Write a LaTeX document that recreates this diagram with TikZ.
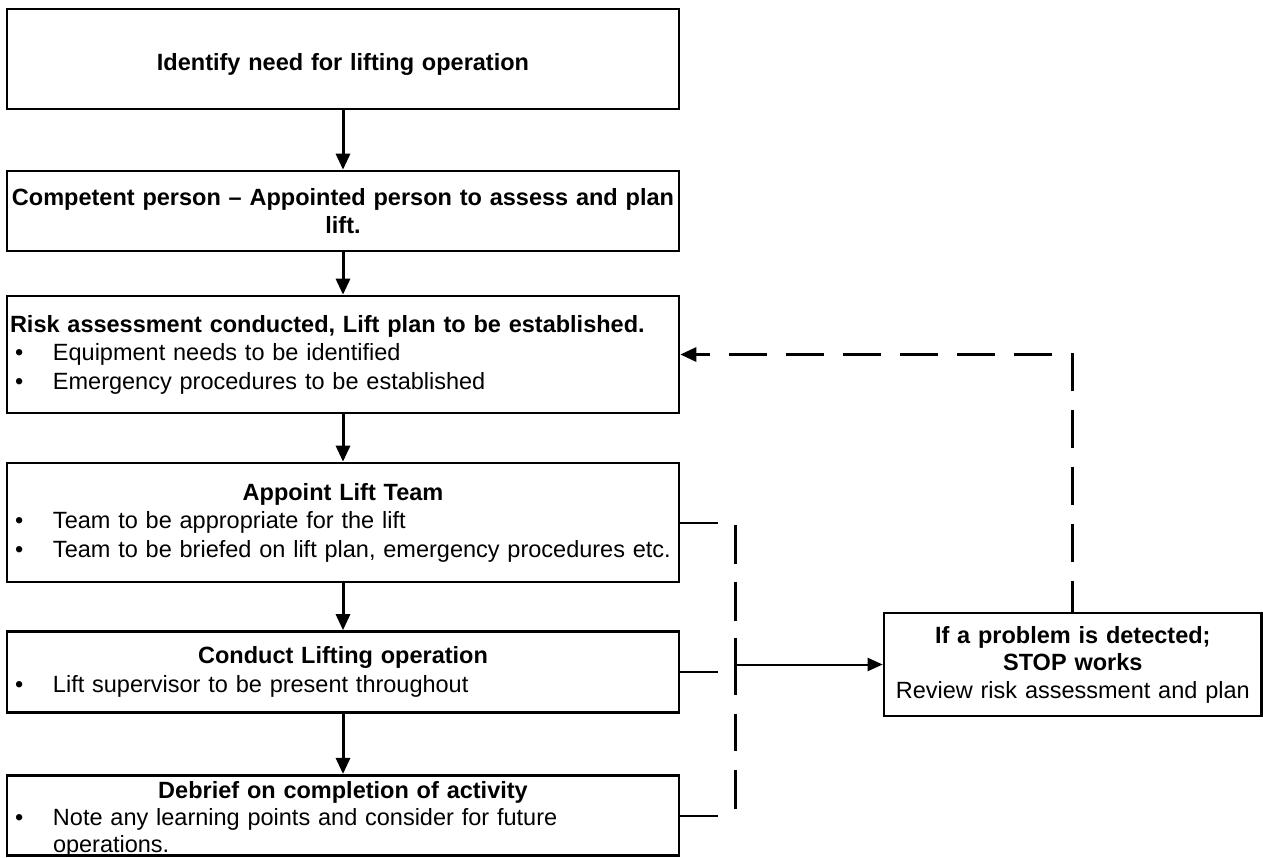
\documentclass[tikz,border=0pt]{standalone}
\usepackage{fontspec}
\setmainfont{Liberation Sans}
\usetikzlibrary{arrows.meta}

% full-width lines inside the process boxes
\newcommand\bitem[1]{\makebox[672pt][l]{\makebox[46pt][l]{\hspace*{8pt}\textbullet}#1}}
\newcommand\bcont[1]{\makebox[672pt][l]{\hspace*{46pt}#1}}
\newcommand\lhead[1]{\makebox[672pt][l]{\hspace*{3pt}\bfseries #1}}

\begin{document}
\begin{tikzpicture}[x=1pt,y=-1pt,
  box/.style={draw=black,line width=2.6pt,rectangle,inner sep=0pt,
    minimum width=672pt,text width=672pt,align=center,
    font=\fontsize{23.5}{28.5}\selectfont},
  boxtext/.style={inner sep=0pt,text width=672pt,align=center,
    font=\fontsize{23.5}{27}\selectfont},
  sidebox/.style={draw=black,line width=2.6pt,rectangle,inner sep=0pt,
    minimum width=377.5pt,text width=377.5pt,minimum height=103pt,align=center,
    font=\fontsize{23.5}{27.5}\selectfont},
  flow/.style={line width=3pt,-{Triangle[length=16pt,width=14pt]}},
  feedback/.style={line width=3pt,dash pattern=on 38pt off 19pt,dash phase=7.5pt,
    -{Triangle[length=16pt,width=14pt]}},
  bar/.style={line width=3pt,dash pattern=on 39pt off 18pt on 39pt off 17pt on 57pt off 19pt on 37pt off 19pt on 39pt off 10pt},
  stub/.style={line width=2pt},
  link/.style={line width=2pt,-{Triangle[length=15pt,width=13pt]}}
]
\useasboundingbox (0,0) rectangle (1263,857);

% main sequence of the lifting procedure
\node[box,minimum height=100pt,text height=27pt,text depth=5pt] (b1) at (343,59)
  {\bfseries Identify need for lifting operation};
\node[box,minimum height=80pt] (b2) at (343,211)
  {\bfseries Competent person -- Appointed person to assess and plan\\ \bfseries lift.};
\node[box,minimum height=117pt] (b3) at (343,354.5)
  {\lhead{Risk assessment conducted, Lift plan to be established.}\\
   \bitem{Equipment needs to be identified}\\
   \bitem{Emergency procedures to be established}};
\node[box,minimum height=119pt] (b4) at (343,522.5)
  {\textbf{Appoint Lift Team}\\
   \bitem{Team to be appropriate for the lift}\\
   \bitem{Team to be briefed on lift plan, emergency procedures etc.}};
\node[box,minimum height=81pt] (b5) at (343,672)
  {\textbf{Conduct Lifting operation}\\
   \bitem{Lift supervisor to be present throughout}};
\node[box,minimum height=80.5pt] (b6) at (343,815.5) {};
\node[boxtext] (b6t) at (343,819.5)
  {\textbf{Debrief on completion of activity}\\
   \bitem{Note any learning points and consider for future}\\
   \bcont{operations.}};

% stop-works box
\node[sidebox] (rb) at (1072.75,664.5)
  {\textbf{If a problem is detected;}\\ \textbf{STOP works}\\ Review risk assessment and plan};

% downward flow
\draw[flow] (b1.south) -- (b2.north);
\draw[flow] (b2.south) -- (b3.north);
\draw[flow] (b3.south) -- (b4.north);
\draw[flow] (b4.south) -- (b5.north);
\draw[flow] (b5.south) -- (b6.north);

% monitoring bar beside the lift stages
\coordinate (sx) at (718,0);
\coordinate (bt) at (735,525);
\coordinate (bb) at (735,811);
\draw[stub] (b4.east) -- (b4.east -| sx);
\draw[stub] (b5.east) -- (b5.east -| sx);
\draw[stub] (b6.east) -- (b6.east -| sx);
\draw[bar] (bt) -- (bb);
\draw[link] (rb.west -| bt) -- (rb.west);

% return to risk assessment
\draw[feedback] (rb.north) -- (rb.north |- b3.east) -- (b3.east);
\end{tikzpicture}
\end{document}
